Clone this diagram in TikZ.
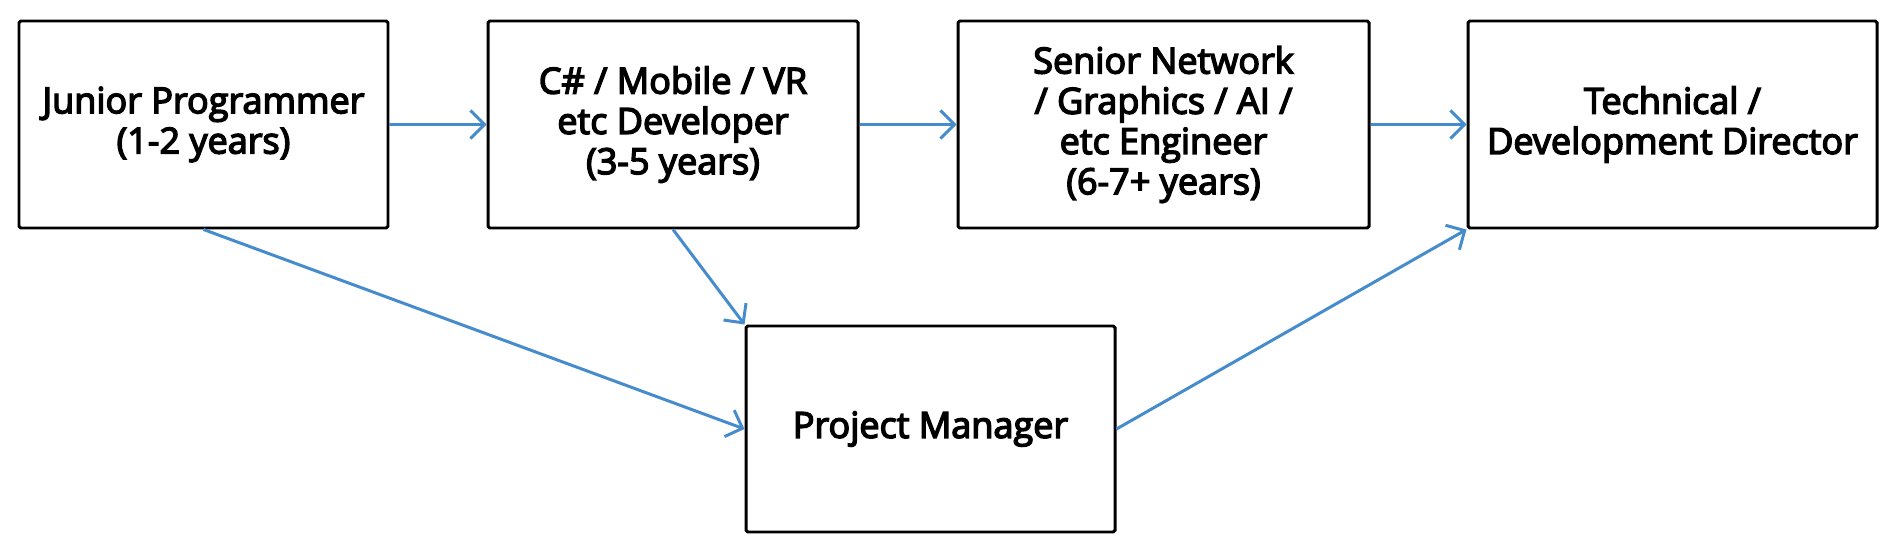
\documentclass[tikz,border=0pt]{standalone}
\usepackage{fontspec}
\setmainfont{Open Sans}
\newfontfamily\boxfont[FakeBold=4]{Open Sans}
\usepackage{xcolor}
\usepackage{tikz}
\usetikzlibrary{arrows.meta,positioning}
\definecolor{linkblue}{RGB}{70,140,205}

\begin{document}
\begin{tikzpicture}[
  role/.style={draw,line width=1.7pt,rounded corners=1pt,fill=white,align=center,
               minimum width=7.38cm,minimum height=4.14cm,inner sep=2pt,
               font=\boxfont\fontsize{20.5}{22.9}\selectfont},
  path/.style={-{Straight Barb[length=8pt,width=16pt,line width=1.7pt]},line width=1.7pt,linkblue}
]
\useasboundingbox (0,0) rectangle (37.9,10.96);

% Career boxes, top row
\node[role] (junior) at (4.07,8.47) {Junior Programmer\\(1-2 years)};
\node[role,minimum width=7.4cm] (dev) at (13.46,8.47) {C\# / Mobile / VR\\etc Developer\\(3-5 years)};
\node[role,minimum width=8.22cm] (senior) at (23.27,8.47) {Senior Network\\/ Graphics / AI /\\etc Engineer\\(6-7+ years)};
\node[role,minimum width=8.18cm] (director) at (33.45,8.47) {Technical /\\Development Director};

% Side route
\node[role,minimum height=4.12cm] (pm) at (18.61,2.38) {Project Manager};

% Progression
\draw[path] (junior.east) -- (dev.west);
\draw[path] (dev.east) -- (senior.west);
\draw[path] (senior.east) -- (director.west);
\draw[path] (junior.south) -- (pm.west);
\draw[path] (dev.south) -- (pm.north west);
\draw[path] (pm.east) -- (director.south west);

\end{tikzpicture}
\end{document}
